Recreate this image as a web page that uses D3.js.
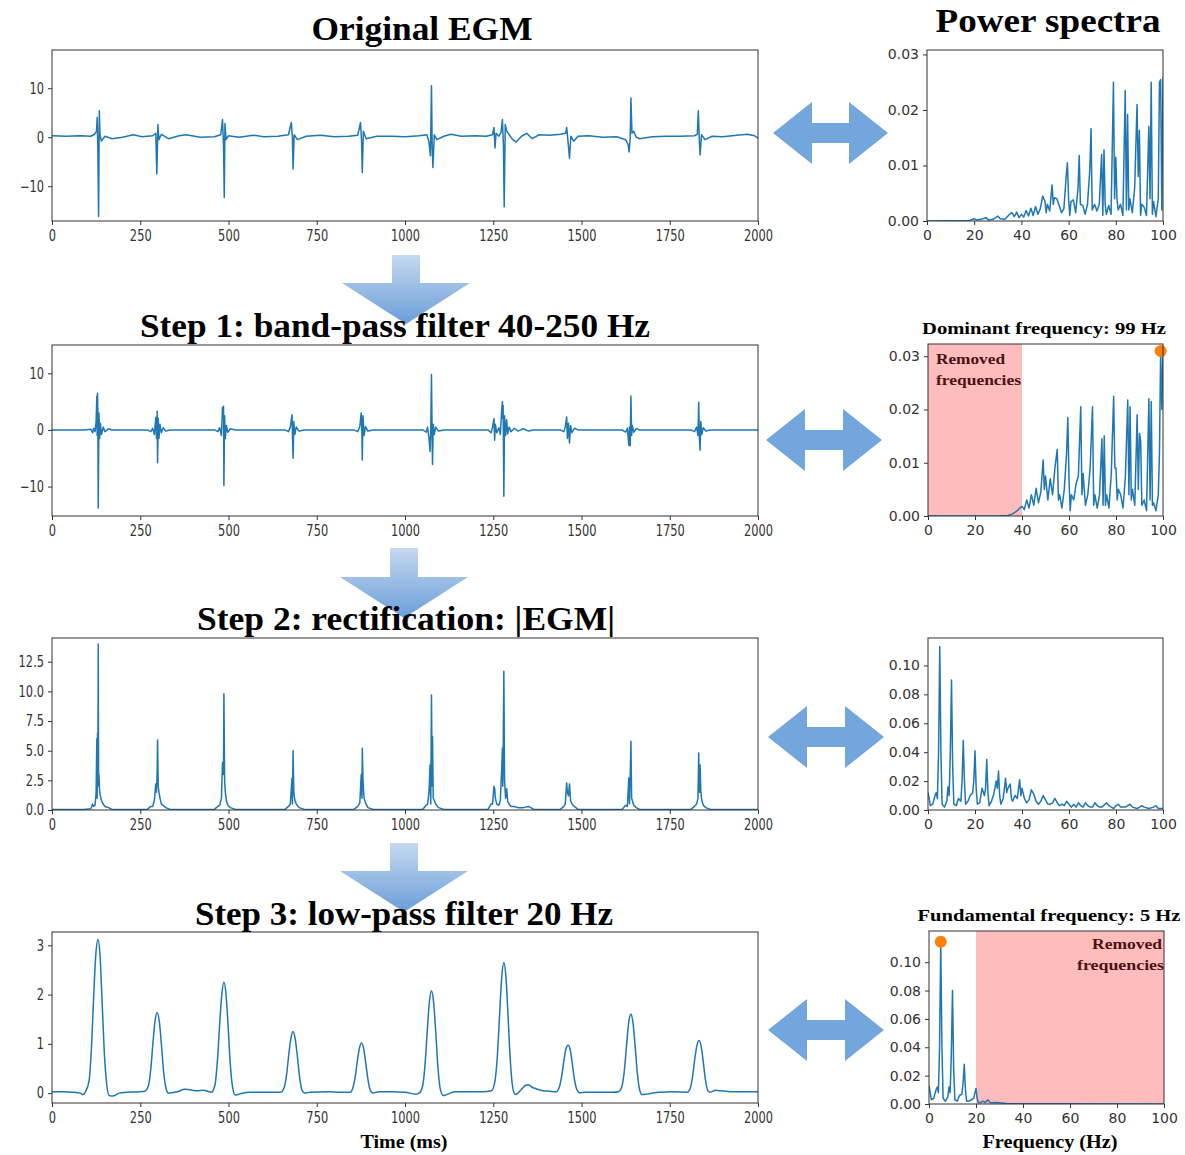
<!DOCTYPE html>
<html><head><meta charset="utf-8">
<script src="https://cdn.jsdelivr.net/npm/d3@7"></script>
<style>body{margin:0;background:#fff}</style>
</head><body><svg id="c" width="1185" height="1155"></svg>
<script>
// ---------- tick labels ----------
const timeTicks=[0,250,500,750,1000,1250,1500,1750,2000];
const freqTicks=[0,20,40,60,80,100];
const egmTicks=[-10,0,10];
const rectTicks=[0,2.5,5,7.5,10,12.5];
const lowTicks=[0,1,2,3];
const specTicksA=[0,0.01,0.02,0.03];
const specTicksB=[0,0.02,0.04,0.06,0.08,0.10];

// ---------- titles ----------
const titles=["Original EGM","Step 1: band-pass filter 40-250 Hz","Step 2: rectification: |EGM|","Step 3: low-pass filter 20 Hz"];
const specTitle="Power spectra";
const dominantLabel="Dominant  frequency:  99 Hz";
const fundamentalLabel="Fundamental  frequency:  5 Hz";
const removedLabel=["Removed","frequencies"];

// ---------- series: original EGM [time ms, amplitude] ----------
const egmRaw=[[0,0.3],[40,0.2],[80,0.3],[110,0.2],[120,0.6],[126,1.2],[128,4.0],[130,-3],[132,-16.2],[134,5.4],[136,0.5],[140,-0.8],[150,0.2],[170,-0.3],[200,0],[230,0.5],[255,0.1],[285,0.3],[294,0.8],[297,-7.5],[300,2.6],[303,-0.5],[310,0.6],[330,-0.3],[360,0.3],[380,0.5],[420,0],[460,0.1],[478,0.5],[483,3.6],[486,-2],[488,-12.3],[490,2.8],[493,-0.5],[500,0.3],[530,0],[570,0.4],[600,0.1],[640,0.2],[670,0.5],[678,3.0],[681,0],[683,-6.5],[686,0.5],[695,-0.5],[720,0.2],[760,0.4],[800,0.1],[840,0.2],[866,0.4],[874,3.0],[877,-1],[879,-7.2],[882,1.2],[890,-0.3],[920,0.2],[960,0.2],[1000,0.1],[1040,0.3],[1062,0.5],[1068,-1],[1072,-3.8],[1075,10.5],[1077,-2],[1079,-6.2],[1083,0.5],[1090,-0.5],[1110,0.2],[1130,0.6],[1160,0.2],[1200,0.3],[1230,0.2],[1248,0.5],[1252,2.0],[1255,-2.2],[1258,0.8],[1266,0.2],[1272,1],[1276,3.6],[1279,-2],[1281,-14.2],[1284,2.6],[1288,1.3],[1295,0.5],[1305,-0.5],[1315,-1],[1330,0.2],[1345,0.8],[1360,-0.3],[1380,0.5],[1410,0.4],[1440,0.6],[1455,0.8],[1458,2.0],[1462,-1],[1466,-4.3],[1470,0.2],[1478,-0.8],[1490,0.2],[1520,0.3],[1560,0],[1600,0.1],[1625,-0.5],[1632,-1.5],[1635,-3.0],[1638,0],[1640,8.0],[1643,0.8],[1648,1.2],[1655,0],[1665,-0.3],[1700,0.1],[1740,0.2],[1780,0.2],[1820,0.3],[1828,0.6],[1831,5.4],[1834,-1],[1836,-3.6],[1840,0.5],[1850,-0.5],[1870,0.2],[1900,0.1],[1940,0.4],[1970,0.6],[1990,0.3],[2000,-0.2]];

// ---------- series: band-pass filtered EGM ----------
const egmBand=[[0,0],[90,0],[110,0.1],[115,-0.5],[118,0.3],[122,-0.3],[125,1.5],[127,6.0],[128,-1],[129,6.5],[130,2],[131,-13.8],[133,3],[135,-1.5],[137,1.2],[140,-0.8],[145,0.5],[150,-0.3],[160,0.2],[170,0],[270,0],[280,-0.3],[285,0.3],[290,-0.8],[294,2.2],[296,-1.5],[298,3.3],[299,-5.8],[301,2],[303,-1.5],[306,1.0],[310,-0.5],[315,0.4],[322,-0.2],[335,0],[460,0],[470,-0.3],[475,0.4],[480,-1],[483,4.0],[485,3],[486,4.2],[487,-9.8],[489,2.5],[491,-1.5],[494,0.8],[498,-0.4],[505,0.2],[520,0],[660,0],[670,-0.3],[675,0.5],[680,2.7],[681,-0.5],[683,-5.0],[685,1.5],[688,-0.8],[692,0.5],[700,-0.2],[715,0],[855,0],[866,-0.3],[872,0.6],[876,3.0],[878,-1],[879,-5.3],[881,2.5],[884,-1],[888,0.6],[895,-0.2],[910,0],[1050,0],[1060,-0.4],[1064,0.5],[1068,-1.5],[1071,-3.8],[1073,0],[1075,9.8],[1077,-2],[1078,-6.1],[1080,1],[1083,-0.8],[1087,0.5],[1095,-0.2],[1110,0],[1235,0],[1244,-0.5],[1248,0.5],[1252,2.0],[1254,-1.8],[1256,1],[1260,-0.5],[1266,0.4],[1270,-0.8],[1274,3.5],[1276,5.0],[1277,2],[1278,4.3],[1280,-11.7],[1282,2.5],[1285,-1],[1288,1.8],[1291,-0.7],[1295,0.5],[1300,-0.3],[1310,0.3],[1320,-0.2],[1335,0.2],[1350,-0.2],[1365,0],[1440,0],[1450,-0.3],[1454,0.5],[1458,2.3],[1460,-1.5],[1463,1.2],[1466,-2.3],[1469,0.8],[1473,-0.5],[1480,0.3],[1490,0],[1615,0],[1625,-0.4],[1630,0.3],[1634,-2.7],[1636,0.5],[1638,-2.8],[1640,6.0],[1642,-1],[1644,0.8],[1648,-0.4],[1655,0.2],[1665,0],[1810,0],[1820,-0.3],[1826,0.5],[1830,-1],[1832,4.9],[1834,-1.5],[1836,-3.6],[1838,1.5],[1841,-0.8],[1845,0.4],[1852,-0.2],[1865,0],[2000,0]];

// ---------- series: rectified EGM ----------
const egmRect=[[0,0.05],[90,0.05],[110,0.1],[115,0.5],[118,0.3],[122,0.4],[125,1.5],[127,6.0],[128,1],[129,6.5],[130,2],[131,14.0],[132,2.5],[133,3],[135,1.5],[137,1.2],[140,0.8],[145,0.5],[150,0.3],[160,0.2],[170,0.05],[270,0.05],[280,0.3],[285,0.3],[290,0.8],[294,2.2],[296,1.5],[298,3.3],[299,5.9],[301,2],[303,1.5],[306,1.0],[310,0.5],[315,0.4],[322,0.2],[335,0.05],[460,0.05],[470,0.3],[475,0.4],[480,1],[483,4.0],[485,3],[486,4.2],[487,9.8],[489,2.5],[491,1.5],[494,0.8],[498,0.4],[505,0.2],[520,0.05],[660,0.05],[670,0.3],[675,0.5],[680,2.7],[681,0.5],[683,5.0],[685,1.5],[688,0.8],[692,0.5],[700,0.2],[715,0.05],[855,0.05],[866,0.3],[872,0.6],[876,3.0],[878,1],[879,5.2],[881,2.5],[884,1],[888,0.6],[895,0.2],[910,0.05],[1050,0.05],[1060,0.4],[1064,0.5],[1068,1.5],[1071,3.8],[1073,0.5],[1075,9.7],[1077,2],[1078,6.2],[1080,1],[1083,0.8],[1087,0.5],[1095,0.2],[1110,0.05],[1235,0.05],[1244,0.5],[1248,0.5],[1252,2.0],[1254,1.8],[1256,1],[1260,0.5],[1266,0.4],[1270,0.8],[1274,3.5],[1276,5.2],[1277,2],[1278,4.3],[1280,11.7],[1282,2.5],[1285,1],[1288,1.8],[1291,0.7],[1295,0.5],[1300,0.3],[1310,0.3],[1320,0.2],[1335,0.2],[1350,0.3],[1365,0.05],[1440,0.05],[1450,0.3],[1454,0.5],[1458,2.3],[1460,1.5],[1463,1.2],[1466,2.2],[1469,0.8],[1473,0.5],[1480,0.3],[1490,0.05],[1615,0.05],[1625,0.4],[1630,0.3],[1634,2.7],[1636,0.5],[1638,2.9],[1640,5.8],[1642,1],[1644,0.8],[1648,0.4],[1655,0.2],[1665,0.05],[1810,0.05],[1820,0.3],[1826,0.5],[1830,1],[1832,4.8],[1834,1.5],[1836,3.8],[1838,1.5],[1841,0.8],[1845,0.4],[1852,0.2],[1865,0.05],[2000,0.05]];

// ---------- series: low-pass filtered envelope ----------
const egmLow=[[0,0.03],[30,0.03],[60,0.02],[80,0.0],[88,-0.03],[95,0.03],[105,0.25],[112,0.95],[118,1.95],[124,2.8],[130,3.12],[136,2.8],[142,1.85],[148,0.85],[155,0.18],[162,-0.05],[172,-0.06],[190,0.0],[210,0.02],[250,0.03],[263,0.04],[273,0.15],[280,0.5],[286,1.02],[292,1.47],[298,1.63],[304,1.45],[310,0.98],[316,0.45],[323,0.1],[330,0.0],[340,0.01],[360,0.04],[375,0.08],[390,0.07],[410,0.05],[430,0.06],[445,0.03],[452,0.02],[462,0.18],[469,0.7],[475,1.4],[481,2.0],[487,2.25],[493,2.0],[499,1.35],[505,0.6],[512,0.1],[519,-0.04],[530,-0.02],[560,0.02],[600,0.02],[640,0.02],[648,0.02],[658,0.12],[665,0.4],[671,0.8],[677,1.12],[683,1.25],[689,1.1],[695,0.75],[701,0.35],[708,0.06],[716,0.0],[730,0.02],[780,0.03],[820,0.02],[845,0.02],[852,0.1],[859,0.33],[865,0.65],[871,0.92],[877,1.02],[883,0.9],[889,0.6],[895,0.28],[902,0.05],[910,0.0],[925,0.03],[960,0.03],[1000,0.02],[1030,-0.02],[1040,0.0],[1050,0.15],[1057,0.6],[1063,1.25],[1069,1.85],[1075,2.08],[1081,1.85],[1087,1.25],[1093,0.55],[1100,0.08],[1108,-0.05],[1118,-0.03],[1140,0.03],[1180,0.03],[1220,0.03],[1245,0.05],[1255,0.25],[1262,0.8],[1268,1.6],[1274,2.35],[1280,2.65],[1286,2.35],[1292,1.55],[1298,0.7],[1305,0.12],[1312,-0.03],[1320,0.0],[1330,0.08],[1340,0.15],[1350,0.17],[1360,0.12],[1375,0.08],[1390,0.05],[1410,0.04],[1428,0.03],[1437,0.12],[1444,0.35],[1450,0.65],[1456,0.9],[1462,0.97],[1468,0.88],[1474,0.6],[1480,0.28],[1487,0.07],[1495,0.01],[1510,0.02],[1550,0.02],[1590,0.02],[1605,0.03],[1615,0.15],[1622,0.5],[1628,1.0],[1634,1.45],[1640,1.6],[1646,1.42],[1652,0.95],[1658,0.42],[1665,0.06],[1672,-0.03],[1685,-0.02],[1720,0.02],[1760,0.03],[1800,0.02],[1808,0.1],[1815,0.35],[1821,0.7],[1827,0.97],[1833,1.07],[1839,0.95],[1845,0.63],[1851,0.28],[1858,0.05],[1865,0.02],[1880,0.06],[1890,0.05],[1920,0.03],[1960,0.03],[2000,0.03]];

// ---------- series: power spectra [Hz, power] ----------
const specRaw=[[0,0],[10,0.00005],[18,0.0001],[20,0.0004],[21,0.0002],[23,0.0003],[25,0.0006],[26,0.0002],[28,0.0003],[30,0.0009],[31,0.0004],[33,0.0003],[35,0.0012],[36,0.0015],[37,0.0008],[38,0.0016],[39,0.0006],[40,0.0012],[41,0.0007],[42,0.0019],[43,0.0009],[44,0.0023],[45,0.001],[46,0.0026],[47,0.0012],[48,0.0022],[49,0.0045],[50,0.0035],[50.5,0.0015],[51,0.003],[52,0.0018],[53,0.0065],[53.5,0.003],[54,0.0042],[55,0.004],[56,0.0028],[57,0.0015],[58,0.0022],[59,0.0082],[59.5,0.0105],[60,0.004],[60.5,0.001],[61,0.0035],[62,0.0038],[63,0.0015],[64,0.006],[64.5,0.0118],[65,0.003],[66,0.0028],[67,0.0012],[68,0.003],[69,0.0093],[69.5,0.0166],[70,0.002],[71,0.003],[72,0.0018],[73,0.003],[74,0.012],[74.5,0.001],[75,0.0128],[75.5,0.003],[76,0.0012],[77,0.0028],[78,0.0012],[79,0.025],[79.5,0.004],[80,0.0115],[80.5,0.004],[81,0.002],[82,0.003],[83,0.001],[84,0.0235],[84.5,0.002],[85,0.0192],[85.5,0.002],[86,0.004],[87,0.0015],[88,0.006],[89,0.021],[89.5,0.008],[90,0.0163],[90.5,0.001],[91,0.003],[92,0.0025],[93,0.001],[94,0.017],[94.5,0.004],[95,0.025],[95.5,0.0012],[96,0.0035],[97,0.0008],[98,0.004],[98.5,0.025],[99,0.0255],[99.5,0.002],[100,0.026]];
const specBand=[[0,0],[30,0],[34,0.0001],[36,0.0004],[38,0.001],[39,0.0015],[40,0.0018],[41,0.0012],[42,0.003],[43,0.0015],[44,0.004],[45,0.002],[46,0.0052],[47,0.0025],[48,0.0045],[49,0.0105],[49.5,0.005],[50,0.0075],[51,0.003],[52,0.007],[53,0.004],[54,0.009],[55,0.0125],[55.5,0.003],[56,0.004],[57,0.0015],[58,0.005],[59,0.012],[59.5,0.0185],[60,0.007],[60.5,0.001],[61,0.004],[62,0.003],[63,0.006],[64,0.0075],[65,0.0205],[65.5,0.004],[66,0.008],[67,0.002],[68,0.004],[69,0.009],[70,0.0205],[70.5,0.002],[71,0.004],[72,0.0015],[73,0.004],[74,0.0145],[74.5,0.002],[75,0.015],[75.5,0.002],[76,0.004],[77,0.0015],[78,0.008],[79,0.0225],[79.5,0.009],[80,0.009],[80.5,0.003],[81,0.005],[82,0.004],[83,0.0015],[84,0.0075],[85,0.0218],[85.5,0.004],[86,0.0205],[86.5,0.003],[87,0.005],[88,0.002],[89,0.019],[89.5,0.005],[90,0.0155],[90.5,0.014],[91,0.002],[92,0.003],[93,0.001],[94,0.022],[94.5,0.003],[95,0.0215],[95.5,0.002],[96,0.0025],[97,0.001],[98,0.004],[98.5,0.012],[99,0.031],[99.5,0.02],[100,0.031]];
const specRect=[[0,0.012],[0.5,0.008],[1,0.003],[2,0.004],[3,0.01],[3.5,0.012],[4,0.008],[4.5,0.04],[5,0.113],[5.5,0.04],[6,0.004],[7,0.002],[8,0.006],[8.5,0.016],[9,0.01],[9.5,0.04],[10,0.09],[10.5,0.03],[11,0.004],[12,0.003],[13,0.008],[14,0.006],[14.5,0.02],[15,0.048],[15.5,0.02],[16,0.004],[17,0.006],[18,0.01],[19,0.012],[19.5,0.02],[20,0.041],[20.5,0.015],[21,0.004],[22,0.005],[23,0.015],[24,0.01],[24.5,0.015],[25,0.035],[25.5,0.012],[26,0.003],[27,0.006],[28,0.011],[29,0.02],[29.5,0.015],[30,0.027],[30.5,0.01],[31,0.004],[32,0.008],[33,0.022],[33.5,0.012],[34,0.015],[35,0.018],[35.5,0.008],[36,0.006],[37,0.01],[38,0.008],[39,0.021],[39.5,0.01],[40,0.015],[41,0.008],[42,0.005],[43,0.007],[44,0.014],[45,0.011],[46,0.006],[47,0.004],[48,0.006],[49,0.01],[50,0.007],[51,0.004],[52,0.004],[53,0.005],[54,0.008],[55,0.005],[56,0.003],[57,0.004],[58,0.003],[59,0.006],[60,0.004],[61,0.002],[62,0.004],[63,0.002],[64,0.005],[65,0.003],[66,0.002],[67,0.005],[68,0.003],[69,0.002],[70,0.002],[71,0.005],[72,0.003],[73,0.002],[74,0.002],[76,0.005],[77,0.003],[78,0.002],[79,0.001],[80,0.003],[81,0.004],[82,0.002],[84,0.002],[86,0.004],[87,0.002],[89,0.001],[91,0.003],[92,0.002],[94,0.001],[96,0.002],[97,0.003],[98,0.001],[100,0.001]];
const specLow=[[0,0.013],[0.5,0.008],[1,0.003],[2,0.004],[3,0.01],[3.5,0.012],[4,0.008],[4.5,0.04],[5,0.114],[5.5,0.04],[6,0.004],[7,0.002],[8,0.005],[8.5,0.012],[9,0.008],[9.5,0.035],[10,0.08],[10.5,0.025],[11,0.003],[12,0.002],[13,0.006],[14,0.007],[14.5,0.015],[15,0.028],[15.5,0.01],[16,0.002],[17,0.002],[18,0.003],[19,0.004],[20,0.011],[20.5,0.004],[21,0.001],[22,0.001],[23,0.002],[24,0.001],[25,0.003],[26,0.001],[27,0.0008],[28,0.001],[30,0.0008],[33,0.0003],[40,0.0002],[60,0.0001],[100,0]];

// ---------- highlighted points & removed bands ----------
const dominantPeak=[99,0.031];
const fundamentalPeak=[5,0.1145];
const removedBand1=[0,40];
const removedBand2=[20,100];

// ================= drawing =================
const svg=d3.select('#c');
svg.append('rect').attr('width',1185).attr('height',1155).attr('fill','#fff');
const defs=svg.append('defs');
const grad=defs.append('linearGradient').attr('id','dg').attr('x1',0).attr('y1',0).attr('x2',0).attr('y2',1);
grad.append('stop').attr('offset','0%').attr('stop-color','#c6d9f0');
grad.append('stop').attr('offset','100%').attr('stop-color','#6a9ed8');

const BLUE='#1f77b4', ARROW='#72a6dd';
const serif='"Liberation Serif","Times New Roman",serif';

function fitText(sel,w){sel.attr('textLength',w).attr('lengthAdjust','spacingAndGlyphs');}

// down arrows (drawn first, titles overlap them)
[[406,255,283,324],[404,548,577,618],[404,843,871,912]].forEach(([cx,t,h,tip])=>{
  const p=d3.path();
  p.moveTo(cx-14,t);p.lineTo(cx+14,t);p.lineTo(cx+14,h);p.lineTo(cx+64,h);p.lineTo(cx,tip);
  p.lineTo(cx-64,h);p.lineTo(cx-14,h);p.closePath();
  svg.append('path').attr('d',p.toString()).attr('fill','url(#dg)');
});
// double arrows
[[773,888,133],[766,882,440],[768,884,737],[768,884,1030]].forEach(([l,r,cy])=>{
  const hl=39,hh=31,sh=10;const p=d3.path();
  p.moveTo(l,cy);p.lineTo(l+hl,cy-hh);p.lineTo(l+hl,cy-sh);p.lineTo(r-hl,cy-sh);p.lineTo(r-hl,cy-hh);
  p.lineTo(r,cy);p.lineTo(r-hl,cy+hh);p.lineTo(r-hl,cy+sh);p.lineTo(l+hl,cy+sh);p.lineTo(l+hl,cy+hh);p.closePath();
  svg.append('path').attr('d',p.toString()).attr('fill',ARROW);
});

function panel(o){
  const g=svg.append('g');
  const x=d3.scaleLinear().domain(o.xd).range([o.l,o.r]);
  const y=d3.scaleLinear().domain(o.yd).range([o.b,o.t]);
  if(o.shade) g.append('rect').attr('x',x(o.shade[0])).attr('y',o.t).attr('width',x(o.shade[1])-x(o.shade[0])).attr('height',o.b-o.t).attr('fill','#ffbcbc');
  const cid='cl'+o.id;
  defs.append('clipPath').attr('id',cid).append('rect').attr('x',o.l).attr('y',o.t-1).attr('width',o.r-o.l).attr('height',o.b-o.t+1);
  const line=d3.line().x(d=>x(d[0])).y(d=>y(d[1])).curve(o.curve||d3.curveLinear);
  g.append('path').datum(o.data).attr('d',line).attr('fill','none').attr('stroke',BLUE).attr('stroke-width',1.5).attr('stroke-linejoin','round').attr('clip-path',`url(#${cid})`);
  if(o.dot) g.append('circle').attr('cx',x(o.dot[0])).attr('cy',y(o.dot[1])).attr('r',6).attr('fill','#ff7f0e');
  const fs=o.cond?15:14;
  const ax=g.append('g').attr('transform',`translate(0,${o.b})`).call(d3.axisBottom(x).tickValues(o.xt).tickSize(4).tickPadding(5).tickFormat(d3.format('d')));
  const ay=g.append('g').attr('transform',`translate(${o.l},0)`).call(d3.axisLeft(y).tickValues(o.yt).tickSize(4).tickPadding(4).tickFormat(o.yf));
  [ax,ay].forEach(a=>{
    a.select('.domain').remove();
    a.selectAll('line').attr('stroke','#333');
    a.selectAll('text').attr('font-family','"DejaVu Sans",sans-serif').attr('font-size',fs).attr('fill','#333');
  });
  if(o.cond){
    g.selectAll('.tick text').each(function(){const w=this.getComputedTextLength();this.setAttribute('textLength',w*0.76);this.setAttribute('lengthAdjust','spacingAndGlyphs');});
  }
  g.append('rect').attr('x',o.l).attr('y',o.t).attr('width',o.r-o.l).attr('height',o.b-o.t).attr('fill','none').attr('stroke','#333').attr('stroke-width',1);
  return {x,y,g};
}
const minus=s=>s.replace('-','\u2212');
const fInt=d=>minus(d3.format('d')(d));
const f1=d3.format('.1f'), f2=d3.format('.2f');

panel({id:'a',l:52,r:758,t:50,b:221,xd:[0,2000],yd:[-17.1,17.8],xt:timeTicks,yt:egmTicks,yf:fInt,data:egmRaw,cond:true});
panel({id:'b',l:927,r:1163,t:50,b:221,xd:[0,100],yd:[0,0.0308],xt:freqTicks,yt:specTicksA,yf:f2,data:specRaw});
panel({id:'c',l:52,r:758,t:345,b:516,xd:[0,2000],yd:[-15.2,15.0],xt:timeTicks,yt:egmTicks,yf:fInt,data:egmBand,cond:true});
panel({id:'d',l:928,r:1163,t:344,b:516,xd:[0,100],yd:[0,0.0323],xt:freqTicks,yt:specTicksA,yf:f2,data:specBand,shade:removedBand1,dot:dominantPeak});
panel({id:'e',l:52,r:758,t:638,b:810,xd:[0,2000],yd:[0,14.5],xt:timeTicks,yt:rectTicks,yf:f1,data:egmRect,cond:true});
panel({id:'f',l:928,r:1163,t:638,b:810,xd:[0,100],yd:[0,0.119],xt:freqTicks,yt:specTicksB,yf:f2,data:specRect});
panel({id:'g',l:52,r:758,t:932,b:1103,xd:[0,2000],yd:[-0.2,3.27],xt:timeTicks,yt:lowTicks,yf:fInt,data:egmLow,cond:true,curve:d3.curveMonotoneX});
panel({id:'h',l:929,r:1164,t:931,b:1104,xd:[0,100],yd:[0,0.122],xt:freqTicks,yt:specTicksB,yf:f2,data:specLow,shade:removedBand2,dot:fundamentalPeak});

// titles
function title(txt,cx,by,fs,w){
  const t=svg.append('text').attr('x',cx).attr('y',by).attr('text-anchor','middle').attr('font-family',serif).attr('font-weight','bold').attr('font-size',fs).attr('fill','#000').text(txt);
  fitText(t,w);return t;
}
title(titles[0],422,40,34,221);
title(specTitle,1048,32,34,225);
title(titles[1],395,337,34,510);
title(titles[2],406,630,34,418);
title(titles[3],404,925,34,418);
title(dominantLabel,1044,334,17,244);
title(fundamentalLabel,1049,921,17,263);
title("Time (ms)",404,1148,19,87);
title("Frequency  (Hz)",1050,1148,19,135);

// removed-frequency labels
const RED='#4a1212';
[[removedLabel[0],936,364,69],[removedLabel[1],936,385,85]].forEach(([t,x,y,w])=>{
  const e=svg.append('text').attr('x',x).attr('y',y).attr('font-family',serif).attr('font-weight','bold').attr('font-size',15).attr('fill',RED).text(t);fitText(e,w);
});
[[removedLabel[0],1162,949,70],[removedLabel[1],1164,970,87]].forEach(([t,x,y,w])=>{
  const e=svg.append('text').attr('x',x).attr('y',y).attr('text-anchor','end').attr('font-family',serif).attr('font-weight','bold').attr('font-size',15).attr('fill',RED).text(t);fitText(e,w);
});
</script></body></html>
